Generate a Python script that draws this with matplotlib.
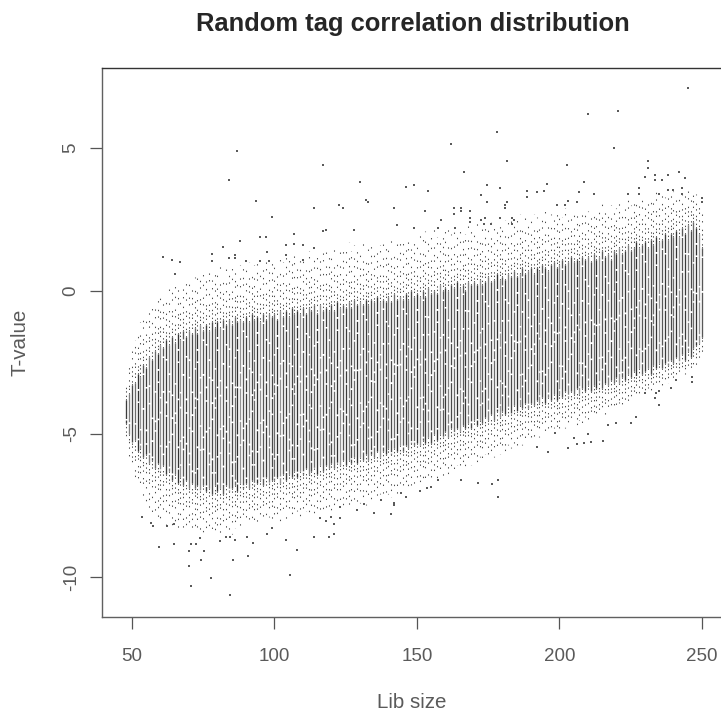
import matplotlib
matplotlib.use('Agg')
import matplotlib.pyplot as plt

plt.rcParams['font.family'] = ['Liberation Sans', 'DejaVu Sans']

# one column of tags per library size
lib_size = list(range(48, 251))

# outer limit of the loose dots, read column by column
fringe_top = [-3.2,-2.6,
	-1.9,-1.7,-1.4,-1.1,-0.9,-0.8,-0.5,-0.6,-0.2,-0.1,
	-0.1,0.0,-0.2,0.2,0.1,0.3,0.2,0.0,0.4,0.3,
	0.4,0.3,0.5,0.6,0.4,0.7,0.5,0.8,0.6,0.9,
	0.6,0.9,0.7,1.0,0.7,0.8,1.0,0.6,0.9,1.0,
	0.8,1.0,0.7,0.9,1.1,0.8,1.0,1.1,0.9,1.0,
	1.1,0.9,1.2,1.0,1.3,1.1,1.2,1.4,1.0,1.2,
	1.3,1.1,1.4,1.2,1.3,1.5,1.2,1.4,1.6,1.3,
	1.4,1.5,1.2,1.6,1.4,1.5,1.7,1.4,1.6,1.5,
	1.5,1.7,1.4,1.6,1.8,1.5,1.7,1.6,1.8,1.6,
	1.7,1.9,1.6,1.8,1.7,2.0,1.7,1.9,1.8,2.0,
	1.8,2.0,1.9,2.1,1.8,2.0,2.2,1.9,2.1,2.0,
	2.1,2.3,2.0,2.2,2.1,2.4,2.2,2.0,2.3,2.2,
	2.2,2.4,2.1,2.3,2.5,2.2,2.4,2.3,2.5,2.4,
	2.3,2.5,2.4,2.6,2.3,2.5,2.7,2.4,2.6,2.5,
	2.5,2.7,2.6,2.4,2.7,2.8,2.5,2.7,2.6,2.9,
	2.7,2.6,2.9,2.8,2.6,2.9,2.8,2.7,3.0,2.8,
	2.8,3.0,2.7,2.9,2.8,3.1,2.9,2.8,3.0,2.9,
	2.9,3.2,3.0,2.9,3.2,3.0,3.3,3.1,3.4,3.2,
	3.3,3.5,3.2,3.4,3.6,3.3,3.5,3.3,3.6,3.4,
	3.5,3.3,3.6,3.4,3.5,3.7,3.3,3.6,3.4,3.2,
	3.0]

# solid part of each column
core_top = [-3.8,-3.6,
	-3.3,-3.2,-2.9,-3.0,-2.6,-2.7,-2.3,-2.4,-2.1,-2.2,
	-1.9,-2.0,-1.7,-1.9,-1.6,-1.8,-1.5,-1.7,-1.4,-1.6,
	-1.4,-1.5,-1.3,-1.5,-1.2,-1.4,-1.2,-1.4,-1.1,-1.3,
	-1.1,-1.3,-1.0,-1.2,-1.0,-1.2,-0.9,-1.1,-1.0,-1.1,
	-0.9,-1.1,-0.8,-1.0,-0.9,-1.1,-0.8,-1.0,-0.8,-0.9,
	-0.8,-1.0,-0.7,-0.9,-0.7,-0.9,-0.6,-0.8,-0.7,-0.8,
	-0.6,-0.8,-0.6,-0.7,-0.5,-0.8,-0.5,-0.7,-0.6,-0.7,
	-0.5,-0.7,-0.4,-0.6,-0.5,-0.6,-0.4,-0.6,-0.3,-0.5,
	-0.4,-0.5,-0.3,-0.5,-0.3,-0.4,-0.2,-0.4,-0.3,-0.4,
	-0.2,-0.4,-0.1,-0.3,-0.2,-0.3,-0.1,-0.3,0.0,-0.2,
	-0.1,-0.2,0.0,-0.2,0.1,-0.1,0.0,-0.1,0.2,0.0,
	0.1,0.0,0.2,0.1,0.3,0.1,0.2,0.0,0.3,0.2,
	0.3,0.2,0.4,0.2,0.3,0.5,0.3,0.4,0.6,0.4,
	0.5,0.4,0.6,0.5,0.7,0.5,0.6,0.8,0.6,0.7,
	0.8,0.6,0.8,0.7,0.9,0.8,0.7,0.9,1.0,0.8,
	0.9,1.1,0.9,1.0,1.2,1.0,1.1,1.0,1.2,1.1,
	1.2,1.0,1.3,1.1,1.2,1.4,1.2,1.3,1.1,1.4,
	1.3,1.5,1.3,1.4,1.6,1.4,1.5,1.7,1.5,1.6,
	1.7,1.5,1.8,1.6,1.9,1.7,1.8,2.0,1.8,2.0,
	1.9,2.1,1.9,2.2,2.0,2.3,2.1,2.4,2.2,2.0,
	1.5]

core_bot = [-4.6,-5.0,
	-5.3,-5.2,-5.6,-5.5,-5.8,-5.7,-6.0,-5.9,-6.2,-6.0,
	-6.3,-6.1,-6.4,-6.3,-6.6,-6.4,-6.7,-6.5,-6.8,-6.6,
	-6.9,-6.7,-6.9,-6.8,-7.0,-6.8,-7.0,-6.9,-7.1,-6.8,
	-7.0,-6.9,-7.1,-6.8,-7.0,-6.9,-6.8,-7.0,-6.7,-6.9,
	-6.7,-6.9,-6.6,-6.8,-6.7,-6.6,-6.8,-6.5,-6.7,-6.6,
	-6.6,-6.5,-6.7,-6.4,-6.6,-6.4,-6.5,-6.3,-6.5,-6.3,
	-6.4,-6.2,-6.4,-6.3,-6.2,-6.4,-6.1,-6.3,-6.1,-6.2,
	-6.0,-6.2,-6.0,-6.1,-5.9,-6.1,-5.9,-6.0,-5.8,-6.0,
	-5.8,-5.9,-5.7,-5.9,-5.7,-5.8,-5.6,-5.8,-5.6,-5.7,
	-5.5,-5.7,-5.5,-5.6,-5.4,-5.6,-5.4,-5.5,-5.3,-5.4,
	-5.3,-5.4,-5.2,-5.3,-5.1,-5.3,-5.0,-5.2,-5.0,-5.1,
	-4.9,-5.1,-4.8,-5.0,-4.8,-4.9,-4.7,-4.8,-4.6,-4.8,
	-4.5,-4.7,-4.5,-4.6,-4.4,-4.5,-4.3,-4.5,-4.2,-4.4,
	-4.2,-4.3,-4.1,-4.3,-4.0,-4.2,-4.0,-4.1,-3.9,-4.1,
	-3.9,-4.0,-3.8,-3.9,-3.7,-3.9,-3.7,-3.8,-3.6,-3.8,
	-3.6,-3.7,-3.5,-3.7,-3.5,-3.6,-3.4,-3.6,-3.4,-3.5,
	-3.3,-3.5,-3.3,-3.4,-3.2,-3.4,-3.2,-3.3,-3.1,-3.2,
	-3.0,-3.2,-3.0,-3.1,-2.9,-3.0,-2.8,-3.0,-2.7,-2.9,
	-2.8,-2.7,-2.9,-2.6,-2.7,-2.5,-2.7,-2.5,-2.6,-2.4,
	-2.5,-2.3,-2.5,-2.2,-2.4,-2.1,-2.3,-2.0,-1.9,-1.8,
	-1.6]

fringe_bot = [-5.2,-5.8,
	-6.2,-6.5,-6.7,-6.9,-7.2,-7.4,-7.6,-7.8,-8.0,-7.9,
	-8.1,-8.0,-8.2,-8.1,-8.3,-8.1,-8.4,-8.2,-8.5,-8.3,
	-8.4,-8.5,-8.3,-8.6,-8.4,-8.5,-8.3,-8.6,-8.4,-8.5,
	-8.3,-8.5,-8.2,-8.6,-8.4,-8.5,-8.3,-8.2,-8.4,-8.1,
	-8.3,-8.1,-8.2,-8.0,-8.2,-8.1,-8.0,-8.2,-7.9,-8.1,
	-8.0,-7.9,-8.1,-7.8,-8.0,-7.9,-7.8,-8.0,-7.7,-7.9,
	-7.8,-7.7,-7.9,-7.7,-7.8,-7.6,-7.9,-7.7,-7.8,-7.6,
	-7.8,-7.6,-7.7,-7.5,-7.7,-7.6,-7.5,-7.6,-7.4,-7.5,
	-7.4,-7.3,-7.5,-7.3,-7.4,-7.2,-7.3,-7.1,-7.3,-7.2,
	-7.1,-7.2,-7.0,-7.1,-6.9,-7.0,-6.8,-7.0,-6.8,-6.9,
	-6.7,-6.8,-6.6,-6.7,-6.5,-6.7,-6.4,-6.6,-6.4,-6.5,
	-6.3,-6.4,-6.2,-6.3,-6.1,-6.3,-6.0,-6.2,-6.0,-6.1,
	-5.9,-6.0,-5.8,-5.9,-5.7,-5.8,-5.6,-5.8,-5.5,-5.7,
	-5.5,-5.6,-5.4,-5.5,-5.3,-5.4,-5.2,-5.4,-5.2,-5.3,
	-5.1,-5.2,-5.0,-5.1,-4.9,-5.0,-4.8,-5.0,-4.8,-4.9,
	-4.8,-4.7,-4.8,-4.6,-4.7,-4.5,-4.7,-4.5,-4.6,-4.4,
	-4.5,-4.4,-4.5,-4.3,-4.4,-4.2,-4.3,-4.1,-4.2,-4.0,
	-4.1,-3.9,-4.0,-3.8,-3.9,-3.7,-3.8,-3.6,-3.7,-3.5,
	-3.5,-3.4,-3.5,-3.3,-3.4,-3.2,-3.3,-3.1,-3.2,-3.0,
	-3.1,-2.9,-3.0,-2.8,-2.9,-2.7,-2.8,-2.6,-2.7,-2.5,
	-2.2]

# single stray points
stray_lib = [87,84,93.5,114,99,107,95,97,88,82,61,64,67,65,104,107,110,114,97.5,78,78,86,86,84,90,95,98,104,110,
	178,162,117,181.5,166.5,130,146,149,154,174.5,179,172.5,188.5,188.5,132,133,174.5,181.5,122.5,124,142,163,165.5,165.5,181,181,
	153,168.5,163,168.5,174,168.5,172.5,179,183.5,184,158.5,143,173.5,183.5,118,117,128,149,157.5,163.5,176,
	245,210,220.5,219,231,231,202.5,230,233.5,233.5,236,238,242,244,208.5,195.5,192,194.5,207,212,228,228,235,224,238,243,243,240,199,202,203,206,250,250,
	84.5,70.6,77.6,105.4,70,74.4,85.6,90.6,75.4,108,70,59.4,64.6,70.6,72.6,92.5,114,104,83,84.5,86,81,74,90.5,99,97.5,53.5,56.6,57.3,62.3,64.6,
	121,119,121,116,120,123,118,135,141,129,123,142,142,146,144.5,178.4,176.5,178.4,171.5,165.5,157.5,153.5,151,155,137.5,131.5,
	196,192,203,206,208.5,211,215.4,205,210,198.6,225,220,217,227,235,239,233.5,246.5,230,234,246.5,241,235]
stray_t = [4.9,3.9,3.15,2.9,2.6,2.0,1.9,1.9,1.75,1.55,1.2,1.1,1.0,0.6,1.6,1.65,1.6,1.5,1.35,1.3,1.05,1.25,1.15,1.15,1.05,1.05,1.05,1.25,1.1,
	5.55,5.15,4.4,4.55,4.15,3.8,3.65,3.7,3.5,3.7,3.6,3.35,3.5,3.3,3.2,3.1,3.1,3.1,3.0,2.9,2.9,2.9,2.9,2.8,3.0,2.9,
	2.8,2.8,2.7,2.55,2.55,2.4,2.5,2.55,2.55,2.5,2.5,2.3,2.35,2.35,2.15,2.1,2.15,2.2,2.2,2.2,2.35,
	7.1,6.2,6.3,5.0,4.55,4.3,4.4,4.0,4.05,3.9,3.9,4.05,4.15,3.95,3.8,3.75,3.45,3.5,3.45,3.4,3.6,3.4,3.4,3.4,3.55,3.6,3.4,3.55,3.0,3.0,3.15,3.1,3.25,3.1,
	-10.63,-10.3,-10.03,-9.93,-9.63,-9.4,-9.4,-9.25,-9.08,-9.07,-9.1,-8.94,-8.85,-8.85,-8.85,-8.8,-8.6,-8.7,-8.6,-8.6,-8.7,-8.75,-8.65,-8.6,-8.3,-8.5,-7.9,-8.1,-8.2,-8.2,-8.15,
	-8.5,-8.6,-8.15,-7.95,-7.9,-7.95,-8.05,-7.75,-7.8,-7.65,-7.55,-7.4,-7.5,-7.2,-7.05,-7.2,-6.75,-6.6,-6.7,-6.6,-6.6,-6.9,-7.0,-6.85,-7.3,-7.45,
	-5.64,-5.46,-5.5,-5.36,-5.3,-5.27,-5.25,-5.14,-5.0,-4.95,-4.63,-4.63,-4.67,-4.4,-3.97,-3.4,-3.75,-3.18,-3.57,-3.57,-3.0,-3.1,-3.5]

x_ticks = [50, 100, 150, 200, 250]
y_ticks = [-10, -5, 0, 5]
y_tick_labels = ['-10', '-5', '0', '5']

text_style = {'color':'#5a5a5a', 'fontsize':13.5}
label_style = {'color':'#5a5a5a', 'fontsize':14.8}

fig = plt.figure(figsize=(7.21, 7.10), dpi=100)
ax = fig.add_axes([102/721, 1-617/710, 619/721, 549/710])

# loose dots run outwards from the solid part, gaps grow with distance
fringe_list = [(0, (1.3,2, 1.3,3, 1.3,2, 1.3,5, 1.3,4, 1.3,8, 1.3,6, 1.3,12, 1.3,9, 1.3,16)),
	(0, (1.3,3, 1.3,1.5, 1.3,4, 1.3,6, 1.3,3, 1.3,10, 1.3,5, 1.3,7, 1.3,14, 1.3,20)),
	(0, (1.3,1.5, 1.3,4, 1.3,3, 1.3,3, 1.3,7, 1.3,5, 1.3,11, 1.3,8, 1.3,18, 1.3,10)),
	(0, (1.3,4, 1.3,2, 1.3,5, 1.3,2, 1.3,9, 1.3,4, 1.3,6, 1.3,15, 1.3,7, 1.3,13)),
	(0, (1.3,2, 1.3,2, 1.3,6, 1.3,4, 1.3,4, 1.3,9, 1.3,12, 1.3,5, 1.3,17, 1.3,8))]
# solid part has small white flecks in it
core_list = [(0, (14,1.2, 31,1.4, 9,1.2, 22,1.4, 40,1.2)),
	(5, (26,1.4, 12,1.2, 37,1.2, 18,1.4, 7,1.2)),
	(11, (9,1.2, 44,1.2, 16,1.4, 11,1.2, 29,1.4)),
	(3, (33,1.2, 21,1.4, 6,1.2, 48,1.2, 13,1.4)),
	(8, (19,1.4, 8,1.2, 27,1.2, 35,1.4, 15,1.2)),
	(2, (41,1.2, 10,1.4, 24,1.2, 17,1.2, 30,1.4)),
	(6, (12,1.2, 25,1.4, 46,1.2, 8,1.2, 20,1.4))]
core_greys = ['#3c3c3c', '#808080', '#4a4a4a', '#6c6c6c', '#333333', '#949494', '#585858']

n = len(lib_size)
fringe_dashes = [fringe_list[i % 5] for i in range(n)]
core_dashes = [core_list[i % 7] for i in range(n)]
core_colors = [core_greys[i % 7] for i in range(n)]

ax.vlines(lib_size, core_top, fringe_top, colors='#4c4c4c', linewidth=0.75, linestyles=fringe_dashes)
ax.vlines(lib_size, core_bot, fringe_bot, colors='#4c4c4c', linewidth=0.75, linestyles=fringe_dashes)
ax.vlines(lib_size, core_top, core_bot, colors=core_colors, linewidth=0.95, linestyles=core_dashes)
ax.scatter(stray_lib, stray_t, s=1.3, color='#5a5a5a', marker='s', linewidths=0)

ax.set_xlim(39.5, 256.7)
ax.set_ylim(-11.4, 7.8)
ax.spines['right'].set_visible(False)
for side in ['left', 'bottom', 'top']:
	ax.spines[side].set_color('#606060')
	ax.spines[side].set_linewidth(1)
ax.spines['top'].set_color('#333333')

ax.set_xticks(x_ticks)
ax.set_xticklabels([str(v) for v in x_ticks], **text_style)
ax.set_yticks(y_ticks)
ax.set_yticklabels(y_tick_labels, rotation=90, va='center', **text_style)
ax.tick_params(axis='both', length=8.6, width=0.9, color='#555555')
ax.tick_params(axis='x', pad=14)
ax.tick_params(axis='y', pad=7.5)

fig.text(412/721, 1-702/710, 'Lib size', ha='center', va='center', **label_style)
fig.text(20/721, 1-342/710, 'T-value', ha='center', va='center', rotation=90, **label_style)
fig.text(413/721, 1-24/710, 'Random tag correlation distribution', ha='center', va='center',
	fontsize=18.4, fontweight='bold', color='#262626')

fig.savefig('out.png', dpi=100)
